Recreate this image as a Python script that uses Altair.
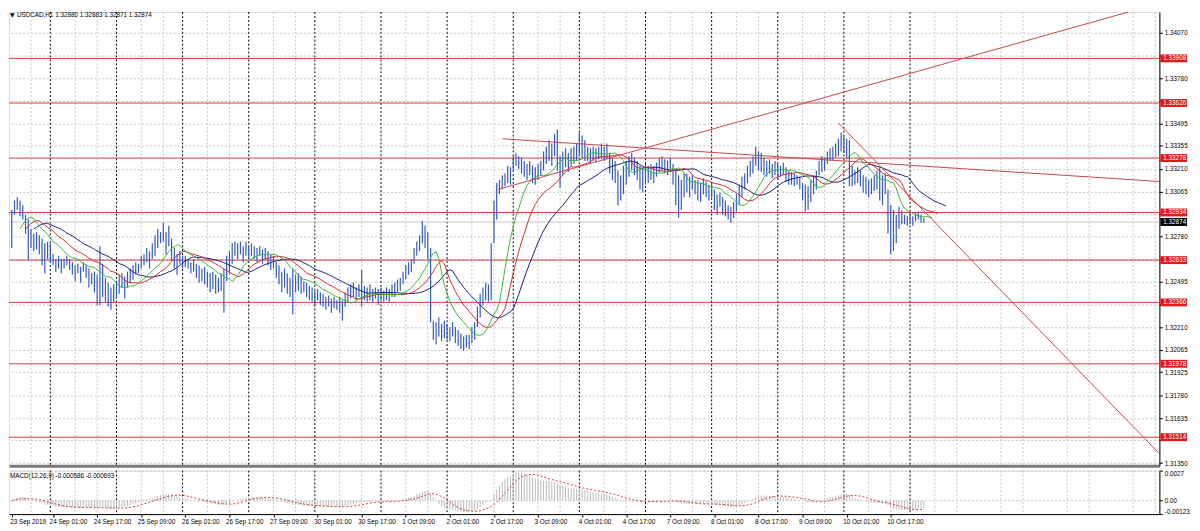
import altair as alt
import pandas as pd

symbol_text = "USDCAD,H1  1.32880 1.32883 1.32871 1.32874"
macd_text = "MACD(12,26,9) -0.000586 -0.000693"

high = [
    1.3295, 1.3301, 1.3303, 1.3301, 1.3298, 1.3292, 1.3289, 1.3283, 1.3280, 1.3281,
    1.3279, 1.3277, 1.3274, 1.3275, 1.3274, 1.3267, 1.3264, 1.3266, 1.3264, 1.3264,
    1.3266, 1.3264, 1.3262, 1.3260, 1.3261, 1.3259, 1.3262, 1.3260, 1.3258, 1.3255,
    1.3256, 1.3254, 1.3272, 1.3261, 1.3252, 1.3249, 1.3246, 1.3248, 1.3250, 1.3254,
    1.3255, 1.3253, 1.3256, 1.3258, 1.3260, 1.3262, 1.3261, 1.3266, 1.3267, 1.3271,
    1.3269, 1.3274, 1.3279, 1.3283, 1.3281, 1.3287, 1.3281, 1.3285, 1.3277, 1.3271,
    1.3267, 1.3269, 1.3266, 1.3266, 1.3264, 1.3262, 1.3264, 1.3261, 1.3260, 1.3258,
    1.3259, 1.3256, 1.3255, 1.3256, 1.3254, 1.3252, 1.3255, 1.3258, 1.3266, 1.3269,
    1.3274, 1.3275, 1.3274, 1.3275, 1.3272, 1.3275, 1.3272, 1.3274, 1.3272, 1.3271,
    1.3272, 1.3270, 1.3271, 1.3269, 1.3267, 1.3266, 1.3262, 1.3260, 1.3256, 1.3258,
    1.3255, 1.3252, 1.3258, 1.3254, 1.3255, 1.3253, 1.3250, 1.3249, 1.3247, 1.3246,
    1.3244, 1.3245, 1.3243, 1.3242, 1.3240, 1.3241, 1.3239, 1.3240, 1.3238, 1.3240,
    1.3238, 1.3243, 1.3246, 1.3248, 1.3249, 1.3246, 1.3248, 1.3257, 1.3247, 1.3246,
    1.3248, 1.3245, 1.3246, 1.3245, 1.3246, 1.3244, 1.3246, 1.3245, 1.3248, 1.3249,
    1.3251, 1.3252, 1.3256, 1.3260, 1.3262, 1.3264, 1.3271, 1.3275, 1.3279, 1.3288,
    1.3285, 1.3281, 1.3271, 1.3225, 1.3224, 1.3227, 1.3223, 1.3225, 1.3223, 1.3221,
    1.3224, 1.3221, 1.3219, 1.3217, 1.3215, 1.3216, 1.3216, 1.3221, 1.3224, 1.3234,
    1.3242, 1.3246, 1.3249, 1.3248, 1.3274, 1.3301, 1.3312, 1.3314, 1.3317, 1.3318,
    1.3323, 1.3322, 1.3329, 1.3331, 1.3329, 1.3328, 1.3326, 1.3324, 1.3326, 1.3323,
    1.3322, 1.3324, 1.3326, 1.3332, 1.3335, 1.3339, 1.3337, 1.3343, 1.3346, 1.3329,
    1.3332, 1.3334, 1.3331, 1.3334, 1.3335, 1.3337, 1.3344, 1.3342, 1.3339, 1.3335,
    1.3334, 1.3335, 1.3334, 1.3335, 1.3337, 1.3335, 1.3337, 1.3331, 1.3328, 1.3326,
    1.3320, 1.3317, 1.3323, 1.3326, 1.3329, 1.3331, 1.3328, 1.3326, 1.3323, 1.3322,
    1.3324, 1.3323, 1.3324, 1.3323, 1.3325, 1.3328, 1.3329, 1.3327, 1.3326, 1.3328,
    1.3324, 1.3320, 1.3317, 1.3314, 1.3318, 1.3318, 1.3316, 1.3317, 1.3314, 1.3314,
    1.3312, 1.3315, 1.3313, 1.3311, 1.3312, 1.3308, 1.3305, 1.3306, 1.3303, 1.3301,
    1.3298, 1.3297, 1.3300, 1.3305, 1.3311, 1.3316, 1.3318, 1.3323, 1.3326, 1.3329,
    1.3335, 1.3332, 1.3331, 1.3328, 1.3326, 1.3327, 1.3324, 1.3326, 1.3324, 1.3323,
    1.3325, 1.3322, 1.3320, 1.3319, 1.3318, 1.3317, 1.3316, 1.3312, 1.3311, 1.3310,
    1.3314, 1.3317, 1.3320, 1.3326, 1.3329, 1.3328, 1.3332, 1.3334, 1.3335, 1.3337,
    1.3340, 1.3344, 1.3342, 1.3340, 1.3339, 1.3323, 1.3320, 1.3322, 1.3320, 1.3317,
    1.3316, 1.3314, 1.3315, 1.3317, 1.3320, 1.3322, 1.3317, 1.3318, 1.3308, 1.3298,
    1.3295, 1.3292, 1.3297, 1.3295, 1.3292, 1.3291, 1.3293, 1.3291, 1.3293, 1.3294,
    1.3292, 1.3290,
]

low = [
    1.3271, 1.3292, 1.3295, 1.3291, 1.3289, 1.3280, 1.3263, 1.3271, 1.3269, 1.3270,
    1.3267, 1.3260, 1.3255, 1.3264, 1.3262, 1.3260, 1.3256, 1.3258, 1.3255, 1.3258,
    1.3260, 1.3257, 1.3254, 1.3250, 1.3255, 1.3249, 1.3256, 1.3252, 1.3246, 1.3248,
    1.3243, 1.3235, 1.3235, 1.3240, 1.3237, 1.3234, 1.3232, 1.3237, 1.3239, 1.3242,
    1.3246, 1.3239, 1.3246, 1.3249, 1.3251, 1.3254, 1.3255, 1.3258, 1.3260, 1.3262,
    1.3258, 1.3264, 1.3266, 1.3271, 1.3274, 1.3275, 1.3267, 1.3272, 1.3263, 1.3258,
    1.3254, 1.3261, 1.3258, 1.3259, 1.3258, 1.3255, 1.3256, 1.3252, 1.3249, 1.3250,
    1.3248, 1.3246, 1.3243, 1.3245, 1.3242, 1.3243, 1.3244, 1.3230, 1.3250, 1.3255,
    1.3261, 1.3266, 1.3264, 1.3267, 1.3262, 1.3266, 1.3264, 1.3266, 1.3264, 1.3262,
    1.3266, 1.3261, 1.3264, 1.3260, 1.3257, 1.3258, 1.3252, 1.3248, 1.3243, 1.3246,
    1.3242, 1.3240, 1.3229, 1.3243, 1.3244, 1.3242, 1.3243, 1.3240, 1.3238, 1.3237,
    1.3235, 1.3238, 1.3235, 1.3234, 1.3232, 1.3234, 1.3230, 1.3233, 1.3232, 1.3230,
    1.3225, 1.3234, 1.3237, 1.3239, 1.3240, 1.3238, 1.3240, 1.3234, 1.3238, 1.3237,
    1.3238, 1.3237, 1.3239, 1.3235, 1.3238, 1.3237, 1.3238, 1.3237, 1.3240, 1.3240,
    1.3243, 1.3244, 1.3248, 1.3251, 1.3254, 1.3256, 1.3261, 1.3266, 1.3269, 1.3274,
    1.3271, 1.3264, 1.3224, 1.3213, 1.3210, 1.3215, 1.3212, 1.3214, 1.3213, 1.3212,
    1.3215, 1.3211, 1.3209, 1.3207, 1.3206, 1.3208, 1.3207, 1.3211, 1.3213, 1.3221,
    1.3227, 1.3235, 1.3238, 1.3237, 1.3238, 1.3274, 1.3289, 1.3305, 1.3308, 1.3310,
    1.3312, 1.3311, 1.3320, 1.3323, 1.3321, 1.3318, 1.3316, 1.3314, 1.3317, 1.3312,
    1.3311, 1.3314, 1.3317, 1.3320, 1.3324, 1.3326, 1.3323, 1.3329, 1.3320, 1.3309,
    1.3317, 1.3322, 1.3319, 1.3323, 1.3324, 1.3326, 1.3329, 1.3328, 1.3326, 1.3326,
    1.3324, 1.3326, 1.3325, 1.3327, 1.3328, 1.3326, 1.3327, 1.3318, 1.3314, 1.3312,
    1.3298, 1.3301, 1.3305, 1.3311, 1.3316, 1.3320, 1.3317, 1.3314, 1.3308, 1.3306,
    1.3311, 1.3312, 1.3314, 1.3312, 1.3316, 1.3319, 1.3320, 1.3318, 1.3317, 1.3319,
    1.3311, 1.3298, 1.3290, 1.3295, 1.3303, 1.3306, 1.3303, 1.3308, 1.3305, 1.3301,
    1.3300, 1.3305, 1.3303, 1.3301, 1.3303, 1.3295, 1.3292, 1.3297, 1.3292, 1.3291,
    1.3289, 1.3287, 1.3290, 1.3294, 1.3298, 1.3303, 1.3308, 1.3312, 1.3316, 1.3318,
    1.3323, 1.3320, 1.3319, 1.3317, 1.3316, 1.3318, 1.3315, 1.3317, 1.3314, 1.3316,
    1.3317, 1.3313, 1.3311, 1.3311, 1.3310, 1.3311, 1.3308, 1.3301, 1.3294, 1.3295,
    1.3300, 1.3305, 1.3308, 1.3317, 1.3319, 1.3320, 1.3324, 1.3326, 1.3326, 1.3328,
    1.3329, 1.3332, 1.3331, 1.3328, 1.3310, 1.3310, 1.3311, 1.3312, 1.3310, 1.3306,
    1.3305, 1.3303, 1.3305, 1.3307, 1.3308, 1.3301, 1.3298, 1.3305, 1.3280, 1.3267,
    1.3269, 1.3274, 1.3283, 1.3286, 1.3286, 1.3285, 1.3286, 1.3285, 1.3288, 1.3289,
    1.3287, 1.3287,
]

level_prices = [1.33908, 1.33626, 1.33278, 1.32934, 1.32633, 1.32366, 1.31978, 1.31514]
bid_price = [1.32874]

trend_ids = ["up", "up", "flat", "flat", "down", "down"]
trend_bars = [176.5, 405.0, 178.0, 416.5, 300.0, 416.5]
trend_prices = [1.3308, 1.3420, 1.3340, 1.3313, 1.3350, 1.3141]

price_ticks = [1.34070, 1.33925, 1.33780, 1.33640, 1.33495, 1.33355, 1.33210, 1.33065,
               1.32925, 1.32780, 1.32640, 1.32495, 1.32355, 1.32210, 1.32065, 1.31925,
               1.31780, 1.31635, 1.31495, 1.31350]
# scale labels that sit under a level-price box
covered_ticks = [1.33925, 1.33640, 1.32925, 1.32640, 1.32355, 1.31495]
macd_ticks = [0.0027, 0.0, -0.00123]
macd_tick_labels = ["0.0027", "0.00", "-0.00123"]

date_label_bars = [0, 15, 31, 47, 63, 79, 95, 111, 127, 143, 159, 175, 191, 207, 223,
                   239, 255, 271, 287, 303, 319]
date_labels = ["23 Sep 2019", "24 Sep 01:00", "24 Sep 17:00", "25 Sep 09:00", "26 Sep 01:00",
               "26 Sep 17:00", "27 Sep 09:00", "30 Sep 01:00", "30 Sep 17:00", "1 Oct 09:00",
               "2 Oct 01:00", "2 Oct 17:00", "3 Oct 09:00", "4 Oct 01:00", "4 Oct 17:00",
               "7 Oct 09:00", "8 Oct 01:00", "8 Oct 17:00", "9 Oct 09:00", "10 Oct 01:00",
               "10 Oct 17:00"]

# ---------------- indicators (Alligator on median price, MACD 12/26/9) -------------
n = len(high)
median = [(h + l) / 2 for h, l in zip(high, low)]


def smma(vals, p):
    out, prev = [], vals[0]
    for v in vals:
        prev = (prev * (p - 1) + v) / p
        out.append(prev)
    return out


def ema(vals, p):
    a = 2.0 / (p + 1)
    out, prev = [], vals[0]
    for v in vals:
        prev = prev + a * (v - prev)
        out.append(prev)
    return out


jaw = smma(median, 13)
teeth = smma(median, 8)
lips = smma(median, 5)
macd_main = [a - b for a, b in zip(ema(median, 12), ema(median, 26))]
macd_signal = pd.Series(macd_main).rolling(9, min_periods=1).mean().tolist()

bars_df = pd.DataFrame({"bar": list(range(n)), "high": high, "low": low})
jaw_df = pd.DataFrame({"bar": [i + 8 for i in range(n)], "v": jaw})
teeth_df = pd.DataFrame({"bar": [i + 5 for i in range(n)], "v": teeth})
lips_df = pd.DataFrame({"bar": [i + 3 for i in range(n)], "v": lips})
macd_df = pd.DataFrame({"bar": list(range(n)), "m": macd_main, "s": macd_signal})
levels_df = pd.DataFrame({"price": level_prices})
bid_df = pd.DataFrame({"price": bid_price})
trend_df = pd.DataFrame({"id": trend_ids, "bar": trend_bars, "price": trend_prices})
gray_df = pd.DataFrame({"bar": [b for b in range(7, 417, 8) if (b - 15) % 24 != 0]})
sep_df = pd.DataFrame({"bar": list(range(14, n, 24))})
head_df = pd.DataFrame({"t": [symbol_text]})
tri_df = pd.DataFrame({"t": ["\u25bc"]})
macd_head_df = pd.DataFrame({"t": [macd_text]})

# ---------------- layout ------------------------------------------------------------
W, PH, MH = 1164, 459, 44
FS = 6.4
FONT = "Liberation Sans"
xs = alt.Scale(domain=[-1.0, 416.5], nice=False, zero=False)
ys = alt.Scale(domain=[1.31334, 1.34201], nice=False, zero=False)
ms = alt.Scale(domain=[-0.00123, 0.0027], nice=False, zero=False)

cov_js = "[" + ",".join(repr(v) for v in covered_ticks) + "]"
x_axis_price = alt.Axis(orient="bottom", labels=False, ticks=False, grid=False,
                        domainColor="#7a7a7a", domainWidth=3, title=None)
y_axis_price = alt.Axis(orient="right", values=price_ticks, title=None,
                        labelExpr=f"indexof({cov_js}, datum.value) >= 0 ? '' : format(datum.value, '.5f')",
                        labelFontSize=FS, labelFont=FONT, labelColor="#000000",
                        tickSize=3, tickColor="#000000", domainColor="#000000",
                        labelPadding=2, labelOverlap=False, labelFlush=False,
                        grid=True, gridColor="#c4c4c4", gridDash=[2, 2])

bars_js = "[" + ",".join(str(b) for b in date_label_bars) + "]"
labels_js = "[" + ",".join("'" + s + "'" for s in date_labels) + "]"
x_axis_macd = alt.Axis(orient="bottom", values=date_label_bars, title=None,
                       labelExpr=f"{labels_js}[indexof({bars_js}, datum.value)]",
                       labelAlign="left",
                       labelOffset={"condition": {"test": "datum.value == 0", "value": -2},
                                    "value": -4},
                       labelFontSize=FS, labelFont=FONT,
                       labelColor="#000000", tickSize=3, tickColor="#000000",
                       domainColor="#000000", labelPadding=2, labelOverlap=False,
                       labelFlush=False, grid=False)
mt_js = "[" + ",".join(repr(v) for v in macd_ticks) + "]"
ml_js = "[" + ",".join("'" + s + "'" for s in macd_tick_labels) + "]"
y_axis_macd = alt.Axis(orient="right", values=macd_ticks, title=None,
                       labelExpr=f"{ml_js}[indexof({mt_js}, datum.value)]",
                       labelFontSize=FS, labelFont=FONT, labelColor="#000000",
                       tickSize=3, tickColor="#000000", domainColor="#000000",
                       labelPadding=2, labelFlush=True, labelOverlap=False,
                       grid=True, gridColor="#c4c4c4", gridDash=[2, 2])


def XP(field="bar"):
    return alt.X(f"{field}:Q", scale=xs, axis=x_axis_price)


def YP(field):
    return alt.Y(f"{field}:Q", scale=ys, axis=y_axis_price)


def XM(field="bar"):
    return alt.X(f"{field}:Q", scale=xs, axis=x_axis_macd)


def YM(field):
    return alt.Y(f"{field}:Q", scale=ms, axis=y_axis_macd)


grid_gray = alt.Chart(gray_df).mark_rule(color="#c4c4c4", strokeDash=[2, 2], strokeWidth=1)
grid_sep = alt.Chart(sep_df).mark_rule(color="#000000", strokeDash=[2, 2], strokeWidth=1)

price = alt.layer(
    grid_gray.encode(x=XP()),
    grid_sep.encode(x=XP()),
    alt.Chart(levels_df).mark_rule(color="#d43c3c", strokeWidth=1).encode(y=YP("price")),
    alt.Chart(bid_df).mark_rule(color="#c8c8c8", strokeWidth=1).encode(y=YP("price")),
    alt.Chart(bars_df).mark_rule(color="#3158cc", strokeWidth=1.2).encode(
        x=XP(), y=YP("low"), y2="high:Q"),
    alt.Chart(jaw_df).mark_line(color="#1d1d7c", strokeWidth=1).encode(x=XP(), y=YP("v")),
    alt.Chart(teeth_df).mark_line(color="#d02a2a", strokeWidth=1).encode(x=XP(), y=YP("v")),
    alt.Chart(lips_df).mark_line(color="#33bb33", strokeWidth=1).encode(x=XP(), y=YP("v")),
    alt.Chart(trend_df).mark_line(color="#c84848", strokeWidth=1, clip=True).encode(
        x=XP(), y=YP("price"), detail="id:N"),
    alt.Chart(levels_df).mark_rule(color="#e01a1a", strokeWidth=8).encode(
        x=alt.value(W + 1), x2=alt.value(W + 28), y=YP("price")),
    alt.Chart(levels_df).mark_text(align="left", baseline="middle", color="#ffffff",
                                   fontSize=FS, font=FONT).encode(
        x=alt.value(W + 4), y=YP("price"), text=alt.Text("price:Q", format=".5f")),
    alt.Chart(bid_df).mark_rule(color="#000000", strokeWidth=8).encode(
        x=alt.value(W + 1), x2=alt.value(W + 28), y=YP("price")),
    alt.Chart(bid_df).mark_text(align="left", baseline="middle", color="#ffffff",
                                fontSize=FS, font=FONT).encode(
        x=alt.value(W + 4), y=YP("price"), text=alt.Text("price:Q", format=".5f")),
    alt.Chart(tri_df).mark_text(align="left", baseline="middle", fontSize=6, color="#000000",
                                font="DejaVu Sans").encode(x=alt.value(1), y=alt.value(3),
                                                           text="t:N"),
    alt.Chart(head_df).mark_text(align="left", baseline="middle", fontSize=FS, color="#000000",
                                 font=FONT).encode(x=alt.value(8), y=alt.value(3), text="t:N"),
).properties(width=W, height=PH)

macd = alt.layer(
    grid_gray.encode(x=XM()),
    grid_sep.encode(x=XM()),
    alt.Chart(macd_df).mark_rule(color="#b9b9b9", strokeWidth=1, clip=True).encode(
        x=XM(), y=YM("m"), y2=alt.datum(0)),
    alt.Chart(macd_df).mark_line(color="#d43a3a", strokeWidth=1, strokeDash=[2, 2],
                                 clip=True).encode(x=XM(), y=YM("s")),
    alt.Chart(macd_head_df).mark_text(align="left", baseline="middle", fontSize=FS,
                                      color="#000000", font=FONT).encode(
        x=alt.value(1), y=alt.value(5), text="t:N"),
).properties(width=W, height=MH)

chart = alt.vconcat(price, macd, spacing=2).properties(
    padding={"left": 0, "top": 0, "right": 0, "bottom": 0},
    background="#ffffff",
).configure_view(stroke="#8a8a8a", strokeWidth=1).configure(font=FONT)

chart.save("out.html", embed_options={"renderer": "svg", "actions": False})
